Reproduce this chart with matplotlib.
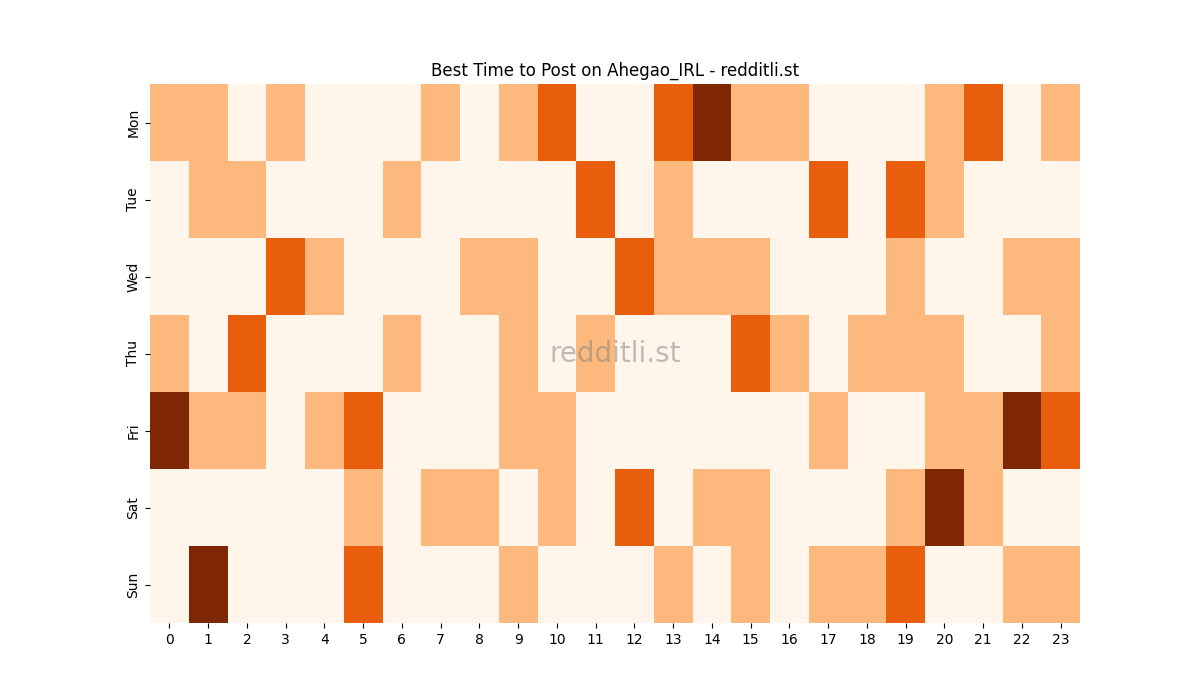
import matplotlib
matplotlib.use("Agg")
import matplotlib.pyplot as plt
import seaborn as sns
import numpy as np

days = ["Mon", "Tue", "Wed", "Thu", "Fri", "Sat", "Sun"]
hours = list(range(24))
mon = [1,1,0,1,0,0,0,1,0,1,2,0,0,2,3,1,1,0,0,0,1,2,0,1]
tue = [0,1,1,0,0,0,1,0,0,0,0,2,0,1,0,0,0,2,0,2,1,0,0,0]
wed = [0,0,0,2,1,0,0,0,1,1,0,0,2,1,1,1,0,0,0,1,0,0,1,1]
thu = [1,0,2,0,0,0,1,0,0,1,0,1,0,0,0,2,1,0,1,1,1,0,0,1]
fri = [3,1,1,0,1,2,0,0,0,1,1,0,0,0,0,0,0,1,0,0,1,1,3,2]
sat = [0,0,0,0,0,1,0,1,1,0,1,0,2,0,1,1,0,0,0,1,3,1,0,0]
sun = [0,3,0,0,0,2,0,0,0,1,0,0,0,1,0,1,0,1,1,2,0,0,1,1]

data = np.array([mon, tue, wed, thu, fri, sat, sun])

fig, ax = plt.subplots(figsize=(12, 7), dpi=100)
sns.heatmap(data, cmap="Oranges", vmin=0, vmax=3, cbar=False, ax=ax,
            xticklabels=hours, yticklabels=days)
ax.set_title("Best Time to Post on Ahegao_IRL - redditli.st")
ax.text(0.5, 0.5, "redditli.st", transform=ax.transAxes, ha="center", va="center",
        fontsize=20, color="gray", alpha=0.5)
fig.savefig("out.png")
